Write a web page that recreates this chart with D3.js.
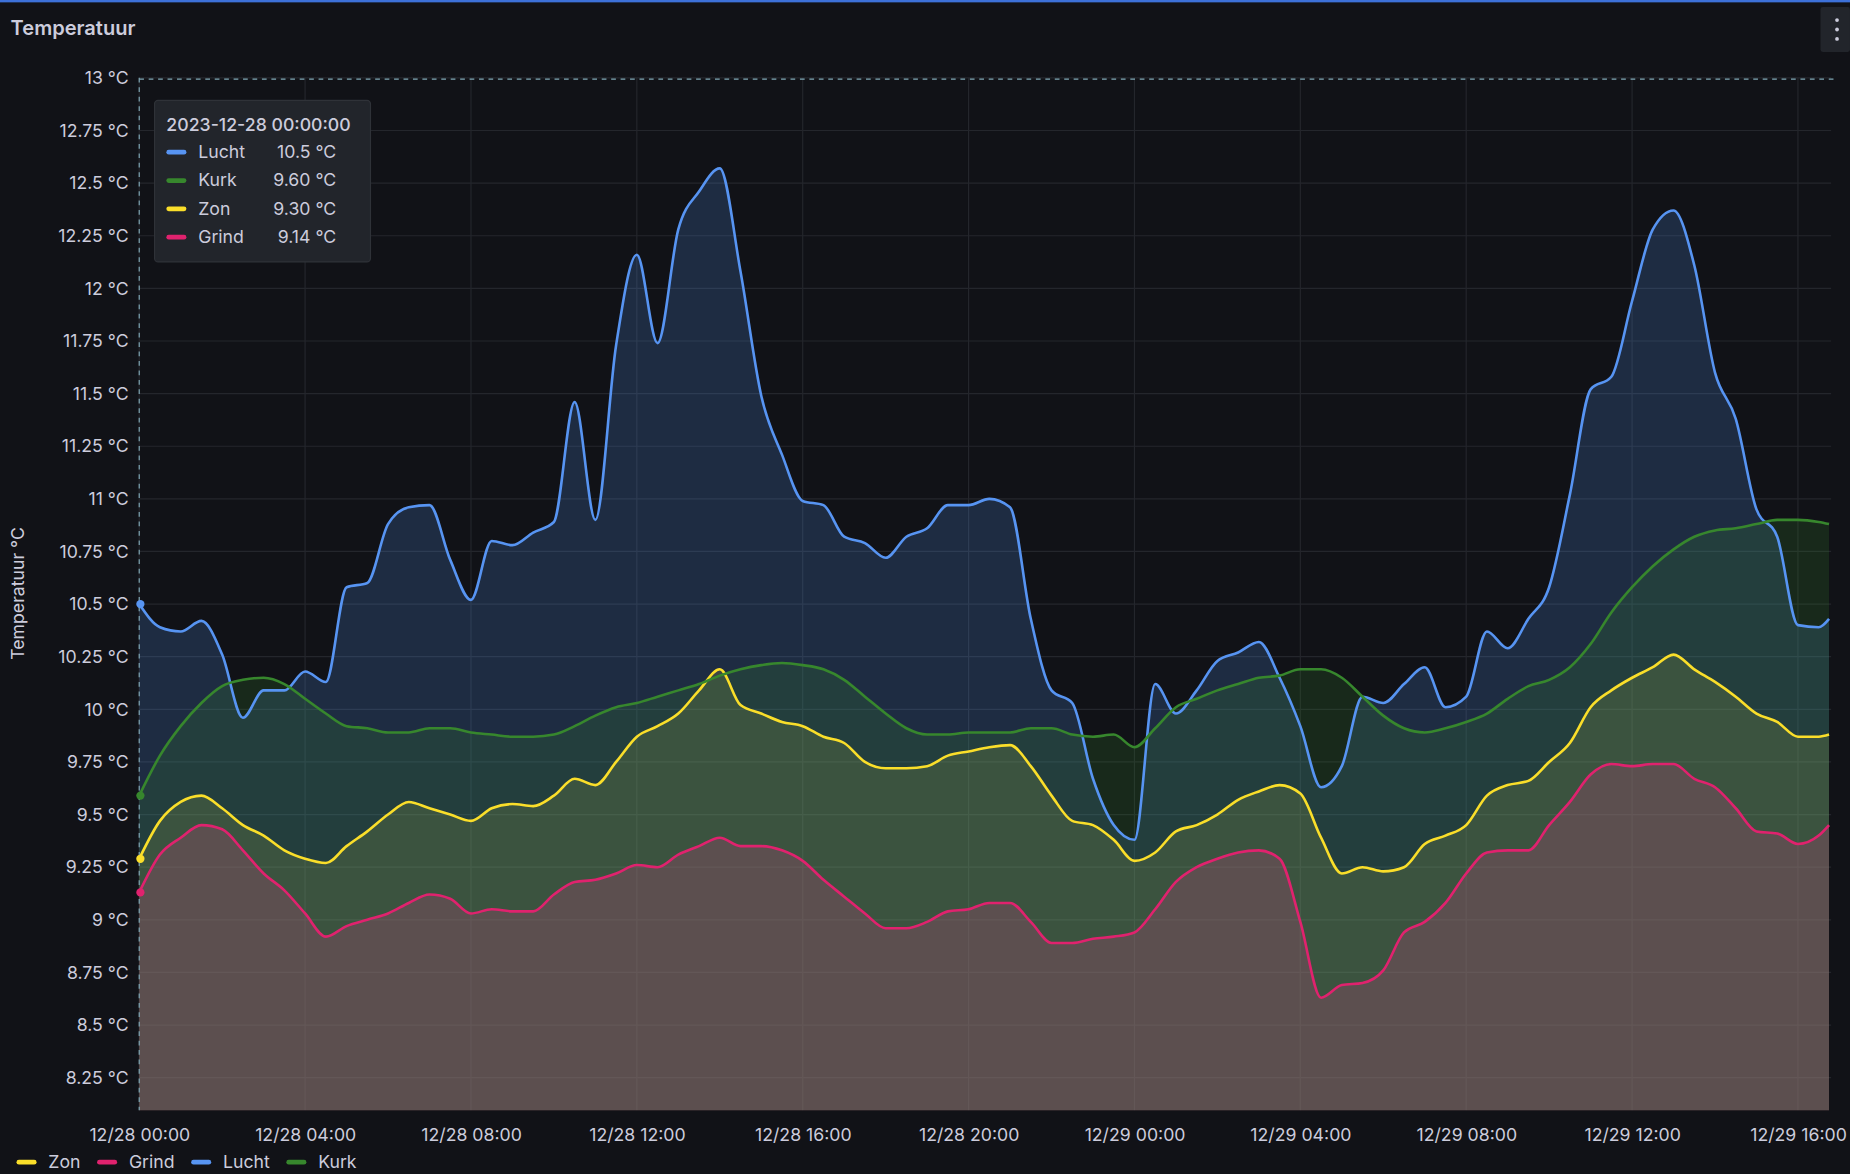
<!DOCTYPE html>
<html>
<head>
<meta charset="utf-8">
<script src="https://cdn.jsdelivr.net/npm/d3@7"></script>
<style>
  html, body { margin: 0; padding: 0; background: #111217; overflow: hidden; }
  svg { display: block; font-family: Inter, "Open Sans", sans-serif; }
</style>
</head>
<body>
<div id="chart"></div>
<script>
// hours after 2023-12-28 00:00
const hours = [0,0.5,1,1.5,2,2.5,3,3.5,4,4.5,5,5.5,6,6.5,7,7.5,8,8.5,9,9.5,10,10.5,11,11.5,12,12.5,13,13.5,14,14.5,
  15,15.5,16,16.5,17,17.5,18,18.5,19,19.5,20,20.5,21,21.5,22,22.5,23,23.5,24,24.5,25,25.5,26,26.5,27,27.5,28,28.5,29,29.5,
  30,30.5,31,31.5,32,32.5,33,33.5,34,34.5,35,35.5,36,36.5,37,37.5,38,38.5,39,39.5,40,40.5,40.75];

const lucht = [10.50,10.39,10.37,10.42,10.26,9.96,10.09,10.09,10.18,10.13,10.58,10.60,10.88,10.96,10.97,10.71,10.52,10.80,10.78,10.84,
  10.89,11.46,10.90,11.73,12.16,11.74,12.28,12.46,12.57,12.08,11.49,11.21,10.99,10.97,10.82,10.79,10.72,10.82,10.86,10.97,
  10.97,11.00,10.96,10.43,10.09,10.03,9.67,9.45,9.38,10.12,9.98,10.09,10.23,10.27,10.32,10.15,9.92,9.63,9.73,10.06,
  10.03,10.12,10.20,10.01,10.06,10.37,10.29,10.43,10.58,11.02,11.52,11.58,11.94,12.28,12.37,12.11,11.60,11.38,10.95,10.82,
  10.40,10.39,10.43];

const kurk = [9.59,9.78,9.92,10.03,10.11,10.14,10.15,10.12,10.05,9.98,9.92,9.91,9.89,9.89,9.91,9.91,9.89,9.88,9.87,9.87,
  9.88,9.92,9.97,10.01,10.03,10.06,10.09,10.12,10.16,10.19,10.21,10.22,10.21,10.19,10.14,10.06,9.98,9.91,9.88,9.88,
  9.89,9.89,9.89,9.91,9.91,9.88,9.87,9.88,9.82,9.91,10.01,10.05,10.09,10.12,10.15,10.16,10.19,10.19,10.15,10.06,
  9.97,9.91,9.89,9.91,9.94,9.98,10.05,10.11,10.14,10.20,10.31,10.46,10.58,10.68,10.76,10.82,10.85,10.86,10.88,10.90,
  10.90,10.89,10.88];

const zon = [9.29,9.47,9.56,9.59,9.53,9.45,9.40,9.33,9.29,9.27,9.35,9.42,9.50,9.56,9.53,9.50,9.47,9.53,9.55,9.54,
  9.59,9.67,9.64,9.75,9.87,9.92,9.98,10.09,10.19,10.02,9.98,9.94,9.92,9.87,9.84,9.75,9.72,9.72,9.73,9.78,
  9.80,9.82,9.83,9.73,9.59,9.47,9.45,9.38,9.28,9.32,9.42,9.45,9.50,9.57,9.61,9.64,9.60,9.39,9.22,9.25,
  9.23,9.25,9.36,9.40,9.45,9.59,9.64,9.66,9.75,9.84,10.01,10.09,10.15,10.20,10.26,10.19,10.13,10.06,9.98,9.94,
  9.87,9.87,9.88];

const grind = [9.13,9.31,9.39,9.45,9.43,9.33,9.22,9.14,9.03,8.92,8.97,9.00,9.03,9.08,9.12,9.10,9.03,9.05,9.04,9.04,
  9.12,9.18,9.19,9.22,9.26,9.25,9.31,9.35,9.39,9.35,9.35,9.33,9.28,9.19,9.11,9.03,8.96,8.96,8.99,9.04,
  9.05,9.08,9.08,8.99,8.89,8.89,8.91,8.92,8.94,9.05,9.18,9.25,9.29,9.32,9.33,9.29,8.99,8.63,8.69,8.70,
  8.76,8.94,8.99,9.08,9.22,9.32,9.33,9.33,9.45,9.56,9.69,9.74,9.73,9.74,9.74,9.67,9.63,9.53,9.42,9.41,
  9.36,9.40,9.45];

const yTicks = [8.25,8.5,8.75,9,9.25,9.5,9.75,10,10.25,10.5,10.75,11,11.25,11.5,11.75,12,12.25,12.5,12.75,13];
const xTickHours = [0,4,8,12,16,20,24,28,32,36,40];

const series = [
  { name: "Zon",   color: "#fade2a", values: zon,   tip: "9.30 °C", fill: 0.17 },
  { name: "Grind", color: "#e0226e", values: grind, tip: "9.14 °C", fill: 0.3 },
  { name: "Lucht", color: "#5794f2", values: lucht, tip: "10.5 °C", fill: 0.2 },
  { name: "Kurk",  color: "#37872d", values: kurk,  tip: "9.60 °C", fill: 0.2 }
];
const tipOrder = ["Lucht", "Kurk", "Zon", "Grind"];

const W = 1568, H = 995;
const start = new Date(2023, 11, 28, 0, 0, 0);
const t = h => new Date(start.getTime() + h * 3600e3);
const pL = 118, pR = 1552, pT = 66, pB = 941;

const x = d3.scaleTime().domain([start, t(40.8)]).range([pL, pR]);
const y = d3.scaleLinear().domain([8.095, 13]).range([pB, pT]);

const svg = d3.select("#chart").append("svg")
  .attr("width", 1850).attr("height", 1174)
  .attr("viewBox", [0, 0, W, H])
  .attr("preserveAspectRatio", "none");

svg.append("rect").attr("width", W).attr("height", H).attr("fill", "#111217");
svg.append("rect").attr("width", W).attr("height", 2).attr("fill", "#3d71d9");

svg.append("text").attr("x", 9).attr("y", 30).attr("fill", "#ccccdc")
  .attr("font-size", 17).attr("font-weight", 600).text("Temperatuur");

// menu button
svg.append("rect").attr("x", 1543).attr("y", 6).attr("width", 25).attr("height", 38)
  .attr("rx", 2).attr("fill", "#22252b");
[17, 25, 33].forEach(cy => svg.append("circle").attr("cx", 1557).attr("cy", cy).attr("r", 1.6).attr("fill", "#ccccdc"));

// grid
const grid = svg.append("g").attr("stroke", "#24262c").attr("stroke-width", 1);
yTicks.forEach(v => grid.append("line").attr("x1", pL).attr("x2", pR).attr("y1", y(v)).attr("y2", y(v)));
xTickHours.forEach(h => grid.append("line").attr("x1", x(t(h))).attr("x2", x(t(h))).attr("y1", pT).attr("y2", pB));

// y axis
const yAxis = svg.append("g").attr("transform", `translate(${pL - 6},0)`)
  .call(d3.axisLeft(y).tickValues(yTicks).tickSize(0).tickFormat(d => `${d} °C`));
yAxis.select(".domain").remove();
yAxis.selectAll("text").attr("fill", "#ccccdc").attr("font-size", 15).attr("font-family", "Inter, sans-serif");

// x axis
const fmt = d3.timeFormat("%m/%d %H:%M");
const xAxis = svg.append("g").attr("transform", `translate(0,${pB + 12})`)
  .call(d3.axisBottom(x).tickValues(xTickHours.map(t)).tickSize(0).tickFormat(fmt));
xAxis.select(".domain").remove();
xAxis.selectAll("text").attr("fill", "#ccccdc").attr("font-size", 15).attr("font-family", "Inter, sans-serif");

svg.append("text").attr("transform", `translate(20,${503}) rotate(-90)`).attr("text-anchor", "middle")
  .attr("fill", "#ccccdc").attr("font-size", 15).text("Temperatuur °C");

// areas and lines
const area = d3.area().x((d, i) => x(t(hours[i]))).y0(pB).y1(d => y(d)).curve(d3.curveMonotoneX);
const line = d3.line().x((d, i) => x(t(hours[i]))).y(d => y(d)).curve(d3.curveMonotoneX);
const plot = svg.append("g");
series.forEach(s => {
  plot.append("path").attr("d", area(s.values)).attr("fill", s.color).attr("fill-opacity", s.fill);
});
series.forEach(s => {
  plot.append("path").attr("d", line(s.values)).attr("fill", "none")
    .attr("stroke", s.color).attr("stroke-width", 2.2);
});

// crosshair
svg.append("line").attr("x1", pL).attr("x2", pR + 2).attr("y1", pT + 1).attr("y2", pT + 1)
  .attr("stroke", "#7fa7b5").attr("stroke-dasharray", "4,4");
svg.append("line").attr("x1", pL).attr("x2", pL).attr("y1", pT).attr("y2", pB)
  .attr("stroke", "#7fa7b5").attr("stroke-dasharray", "4,4");
series.forEach(s => svg.append("circle").attr("cx", pL + 1).attr("cy", y(s.values[0])).attr("r", 3.5).attr("fill", s.color));

// tooltip
const tip = svg.append("g").attr("transform", "translate(131,85)");
tip.append("rect").attr("width", 183).attr("height", 137).attr("rx", 3)
  .attr("fill", "#22252b").attr("stroke", "#2f3238");
tip.append("text").attr("x", 10).attr("y", 26).attr("fill", "#ccccdc").attr("font-size", 15)
  .attr("font-weight", 500).text("2023-12-28 00:00:00");
tipOrder.forEach((n, i) => {
  const s = series.find(d => d.name === n);
  const yy = 44 + i * 24;
  tip.append("rect").attr("x", 10).attr("y", yy - 2).attr("width", 17).attr("height", 4).attr("rx", 2).attr("fill", s.color);
  tip.append("text").attr("x", 37).attr("y", yy + 5).attr("fill", "#ccccdc").attr("font-size", 15).text(s.name);
  tip.append("text").attr("x", 154).attr("y", yy + 5).attr("text-anchor", "end").attr("fill", "#ccccdc")
    .attr("font-size", 15).text(s.tip);
});

// legend
let lx = 14;
const leg = svg.append("g");
series.forEach(s => {
  leg.append("rect").attr("x", lx).attr("y", 983).attr("width", 17).attr("height", 4).attr("rx", 2).attr("fill", s.color);
  const txt = leg.append("text").attr("x", lx + 27).attr("y", 990).attr("fill", "#ccccdc").attr("font-size", 15).text(s.name);
  lx += 27 + txt.node().getComputedTextLength() + 14;
});
</script>
</body>
</html>
